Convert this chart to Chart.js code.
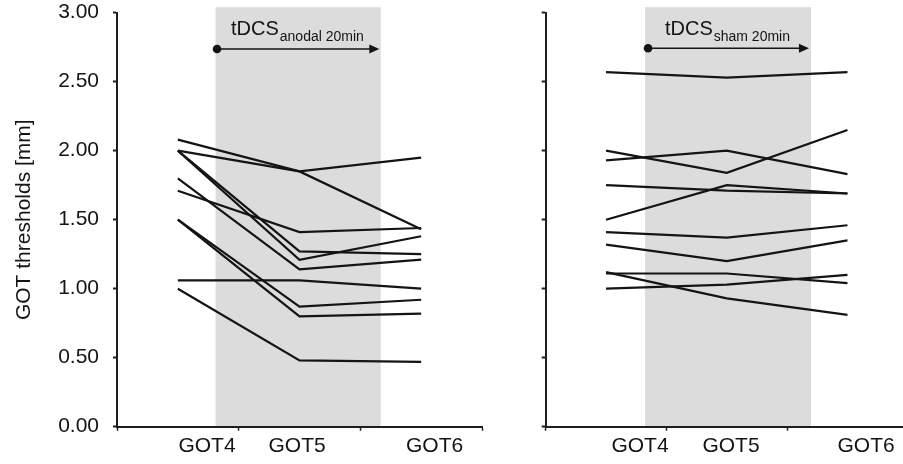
<!DOCTYPE html>
<html><head><meta charset="utf-8">
<script src="https://cdn.jsdelivr.net/npm/chart.js@4.4.1/dist/chart.umd.min.js"></script>
<style>
html,body{margin:0;padding:0;background:#fff;}
#wrap{position:relative;width:903px;height:464px;overflow:hidden;}
#c1{position:absolute;left:0;top:0;width:490px;height:464px;}
#c2{position:absolute;left:490px;top:0;width:413px;height:464px;}
</style></head><body>
<div id="wrap"><canvas id="c1" width="490" height="464"></canvas><canvas id="c2" width="413" height="464"></canvas></div>
<script>
// ---- data ----
const sessions = ['GOT4', 'GOT5', 'GOT6'];
const sessionIndex = [0, 1, 2];
const yTickValues = [0, 0.5, 1, 1.5, 2, 2.5, 3];
const yTitle = 'GOT thresholds [mm]';
const stimMain = 'tDCS';
const stimSubAnodal = 'anodal 20min';
const stimSubSham = 'sham 20min';

// anodal tDCS subjects: thresholds at GOT4, GOT5, GOT6
const anodalS1  = [2.08, 1.85, 1.95];
const anodalS2  = [2.00, 1.85, 1.43];
const anodalS3  = [1.71, 1.41, 1.44];
const anodalS4  = [2.00, 1.27, 1.25];
const anodalS5  = [2.00, 1.21, 1.38];
const anodalS6  = [1.80, 1.14, 1.21];
const anodalS7  = [1.06, 1.06, 1.00];
const anodalS8  = [1.50, 0.87, 0.92];
const anodalS9  = [1.50, 0.80, 0.82];
const anodalS10 = [1.00, 0.48, 0.47];

// sham tDCS subjects
const shamS1  = [2.57, 2.53, 2.57];
const shamS2  = [2.00, 1.84, 2.15];
const shamS3  = [1.93, 2.00, 1.83];
const shamS4  = [1.75, 1.71, 1.69];
const shamS5  = [1.50, 1.75, 1.69];
const shamS6  = [1.41, 1.37, 1.46];
const shamS7  = [1.32, 1.20, 1.35];
const shamS8  = [1.11, 1.11, 1.04];
const shamS9  = [1.12, 0.93, 0.81];
const shamS10 = [1.00, 1.03, 1.10];

const anodalSeries = [anodalS1, anodalS2, anodalS3, anodalS4, anodalS5, anodalS6, anodalS7, anodalS8, anodalS9, anodalS10];
const shamSeries = [shamS1, shamS2, shamS3, shamS4, shamS5, shamS6, shamS7, shamS8, shamS9, shamS10];

// ---- layout / style ----
const FONT = '"Liberation Sans", Arial, Helvetica, sans-serif';
const INK = '#141414';
const AXIS = '#1e1e1e';
const BAND = '#dcdcdc';

const layoutLeft = {
  xMin: -0.5, xMax: 2.5, tickMarks: [-0.5, 0.5, 1.5, 2.5], labelPos: [0.24, 0.98, 2.11],
  band: [0.31, 1.668], bandTop: 3.04, arrowFrom: 0.322, arrowTo: 1.656, arrowY: 2.737,
  textX: 0.437, textY: 2.838, sub: stimSubAnodal,
  yWidth: 117, padding: {top: 12.7, right: 8, bottom: 0, left: 0}, showYLabels: true
};
const layoutRight = {
  xMin: -0.5, xMax: 2.46, tickMarks: [-0.5, 0.5, 1.5], labelPos: [0.281, 1.035, 2.154],
  band: [0.323, 1.698], bandTop: 3.04, arrowFrom: 0.348, arrowTo: 1.681, arrowY: 2.742,
  textX: 0.488, textY: 2.838, sub: stimSubSham,
  yWidth: 55.7, padding: {top: 12.7, right: 0, bottom: 0, left: 0}, showYLabels: false
};

const bandPlugin = {
  id: 'stimBand',
  beforeDraw(chart, args, o) {
    const {ctx} = chart; const x = chart.scales.x, y = chart.scales.y;
    const x0 = x.getPixelForValue(o.band[0]), x1 = x.getPixelForValue(o.band[1]);
    const yt = y.getPixelForValue(o.bandTop), yb = y.getPixelForValue(0);
    ctx.save(); ctx.fillStyle = BAND; ctx.fillRect(x0, yt, x1 - x0, yb - yt); ctx.restore();
  },
  afterDraw(chart, args, o) {
    const {ctx} = chart; const x = chart.scales.x, y = chart.scales.y;
    const ax0 = x.getPixelForValue(o.arrowFrom), ax1 = x.getPixelForValue(o.arrowTo);
    const ay = y.getPixelForValue(o.arrowY);
    ctx.save();
    ctx.strokeStyle = INK; ctx.fillStyle = INK; ctx.lineWidth = 1.6;
    ctx.beginPath(); ctx.moveTo(ax0, ay); ctx.lineTo(ax1 - 8, ay); ctx.stroke();
    ctx.beginPath(); ctx.moveTo(ax1, ay); ctx.lineTo(ax1 - 10, ay - 4.5); ctx.lineTo(ax1 - 10, ay + 4.5); ctx.closePath(); ctx.fill();
    ctx.beginPath(); ctx.arc(ax0, ay, 4.3, 0, Math.PI * 2); ctx.fill();
    const tx = x.getPixelForValue(o.textX), ty = y.getPixelForValue(o.textY);
    ctx.textBaseline = 'alphabetic'; ctx.textAlign = 'left';
    ctx.font = '20px ' + FONT;
    ctx.fillText(stimMain, tx, ty);
    const w = ctx.measureText(stimMain).width;
    ctx.font = '14px ' + FONT;
    ctx.fillText(o.sub, tx + w + 1, ty + 6);
    ctx.restore();
  }
};

function makeChart(canvasId, series, L) {
  const near = (a, b) => Math.abs(a - b) < 1e-6;
  const datasets = series.map(s => ({
    data: s.map((v, i) => ({x: sessionIndex[i], y: v})),
    borderColor: INK, borderWidth: 2.2, pointRadius: 0, tension: 0, fill: false
  }));
  const tickVals = L.tickMarks.concat(L.labelPos).sort((a, b) => a - b);
  return new Chart(document.getElementById(canvasId), {
    type: 'line',
    data: {datasets},
    plugins: [bandPlugin],
    options: {
      responsive: false, animation: false, devicePixelRatio: 1,
      layout: {padding: L.padding},
      plugins: {legend: {display: false}, tooltip: {enabled: false}, stimBand: L},
      scales: {
        x: {
          type: 'linear', min: L.xMin, max: L.xMax,
          afterBuildTicks: s => { s.ticks = tickVals.map(v => ({value: v})); },
          ticks: {
            autoSkip: false, maxRotation: 0, minRotation: 0, padding: 3,
            font: {family: FONT, size: 21}, color: INK,
            callback: (v) => { const k = L.labelPos.findIndex(p => near(p, v)); return k >= 0 ? sessions[k] : ''; }
          },
          grid: {
            drawOnChartArea: false, drawTicks: true, tickLength: 4, tickWidth: 1.5,
            tickColor: c => (c.tick && L.tickMarks.some(m => near(m, c.tick.value))) ? AXIS : 'rgba(0,0,0,0)'
          },
          border: {display: true, color: AXIS, width: 2},
          afterFit: s => { s.height = 37.3; s.paddingLeft = 0; s.paddingRight = 0; }
        },
        y: {
          type: 'linear', min: 0, max: 3,
          afterBuildTicks: s => { s.ticks = yTickValues.map(v => ({value: v})); },
          ticks: {display: L.showYLabels, padding: 14, font: {family: FONT, size: 21}, color: INK,
                  callback: v => Number(v).toFixed(2)},
          grid: {drawOnChartArea: false, drawTicks: true, tickLength: 4, tickWidth: 2, tickColor: AXIS},
          border: {display: true, color: AXIS, width: 2},
          title: {display: L.showYLabels, text: yTitle, color: INK, font: {family: FONT, size: 21}, padding: {top: 12, bottom: 0}},
          afterFit: s => { s.width = L.yWidth; s.paddingTop = 0; s.paddingBottom = 0; }
        }
      }
    }
  });
}

makeChart('c1', anodalSeries, layoutLeft);
makeChart('c2', shamSeries, layoutRight);
</script>
</body></html>
